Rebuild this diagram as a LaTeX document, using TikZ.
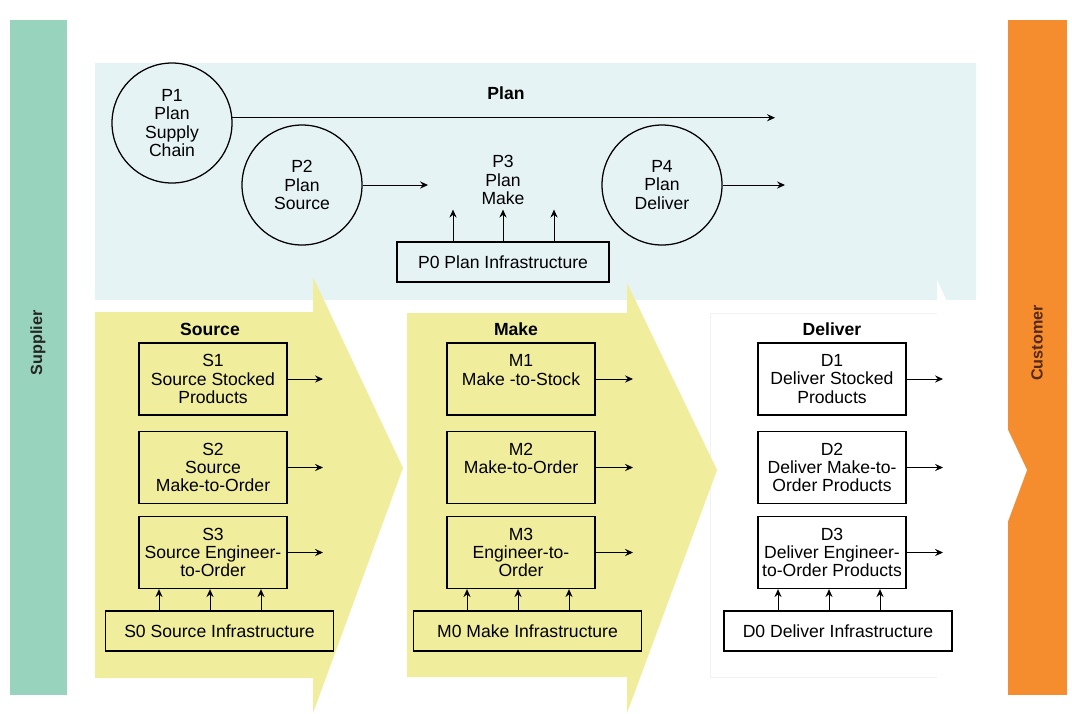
\documentclass[tikz,border=0pt]{standalone}
\usepackage{fontspec}
\setmainfont{Liberation Sans}
\usetikzlibrary{arrows.meta}

\definecolor{supplierbar}{RGB}{152,211,189}
\definecolor{customerbar}{RGB}{245,140,45}
\definecolor{planarea}{RGB}{229,243,245}
\definecolor{execarea}{RGB}{240,237,157}
\definecolor{customertext}{RGB}{85,40,20}
\newcommand{\chartfont}{\fontsize{12.5}{13.1}\selectfont}

\begin{document}
\begin{tikzpicture}[
				planproc/.style={
					draw,
					circle,
					line width=0.9pt,
					minimum size=3cm,
					inner sep=0pt,
					align=center,
					font=\chartfont
				},
				activity/.style={
					draw,
					rectangle,
					line width=0.9pt,
					minimum width=3.7cm,
					minimum height=1.8cm,
					inner sep=1pt,
					align=center,
					font=\chartfont
				},
				infra/.style={activity,minimum width=5.7cm,minimum height=1cm},
				phase/.style={font=\bfseries\chartfont},
				party/.style={rotate=90,font=\bfseries\fontsize{11.5}{13}\selectfont},
				relation/.style={line width=0.7pt,-{Stealth[length=2mm,width=1.8mm,inset=0.7mm]}}
				]
				\useasboundingbox (0,0) rectangle (26.8,-17.825);
				
				% background bands
				\fill[supplierbar] (0.25,-0.5) rectangle (1.675,-17.375);
				\fill[planarea] (2.375,-1.575) rectangle (24.4,-7.5);
				\fill[customerbar] (25.2,-0.5) rectangle (26.675,-17.375);
				\fill[white] (17.75,-7.825) -- (23.425,-7.825) -- (23.425,-7.0) -- (25.675,-11.75)
				-- (23.425,-17.825) -- (23.425,-16.925) -- (17.75,-16.925) -- cycle;
				\draw[black!5] (23.425,-7.825) -- (17.75,-7.825) -- (17.75,-16.925) -- (23.425,-16.925);
				\fill[execarea] (2.375,-7.8) -- (7.825,-7.8) -- (7.825,-6.925) -- (10.075,-11.7)
				-- (7.825,-17.825) -- (7.825,-16.95) -- (2.375,-16.95) -- cycle;
				\fill[execarea] (10.175,-7.825) -- (15.675,-7.825) -- (15.675,-7.075) -- (17.925,-11.75)
				-- (15.675,-17.825) -- (15.675,-16.925) -- (10.175,-16.925) -- cycle;
				
				\node[party,text=black!85] (supplier) at (0.95,-8.575) {Supplier};
				\node[party,text=customertext] (customer) at (25.925,-8.575) {Customer};
				
				% plan
				\node[phase] (plan) at (12.65,-2.325) {Plan};
				\node[planproc] (p1) at (4.3,-3.075) {P1\\Plan\\Supply\\Chain};
				\node[planproc] (p2) at (7.55,-4.625) {P2\\Plan\\Source};
				\node[align=center,font=\chartfont] (p3) at (12.575,-4.5) {P3\\Plan\\Make};
				\node[planproc] (p4) at (16.55,-4.625) {P4\\Plan\\Deliver};
				\node[infra,minimum width=5.3cm] (p0) at (12.575,-6.55) {P0 Plan Infrastructure};
				\coordinate (planend) at (19.375,-2.95);
				\coordinate (p2out) at (10.7,-4.6);
				\coordinate (p4out) at (19.625,-4.6);
				
				\draw[relation] (p1.5) -- (p1.5 -| planend);
				\draw[relation] (p2.east) -- (p2.east -| p2out);
				\draw[relation] (p4.east) -- (p4.east -| p4out);
				\draw[relation] ([xshift=-1.25cm]p0.north) -- ([xshift=-1.25cm]p3.south);
				\draw[relation] (p0.north) -- (p3.south);
				\draw[relation] ([xshift=1.275cm]p0.north) -- ([xshift=1.275cm]p3.south);
				
				% source
				\node[phase] (source) at (5.25,-8.225) {Source};
				\node[activity] (s1) at (5.325,-9.475) {S1\\Source Stocked\\Products};
				\node[activity] (s2) at (5.325,-11.6875) {S2\\Source\\Make-to-Order};
				\node[activity] (s3) at (5.325,-13.8125) {S3\\Source Engineer-\\to-Order};
				\node[infra] (s0) at (5.4875,-15.775) {S0 Source Infrastructure};
				\coordinate (sout) at (8.075,-9.475);
				
				% make
				\node[phase] (make) at (12.9,-8.225) {Make};
				\node[activity] (m1) at (13.025,-9.475) {M1\\Make -to-Stock\\~};
				\node[activity] (m2) at (13.025,-11.6875) {M2\\Make-to-Order\\~};
				\node[activity] (m3) at (13.025,-13.8125) {M3\\Engineer-to-\\Order};
				\node[infra] (m0) at (13.1875,-15.775) {M0 Make Infrastructure};
				\coordinate (mout) at (15.825,-9.475);
				
				% deliver
				\node[phase] (deliver) at (20.8,-8.225) {Deliver};
				\node[activity] (d1) at (20.8,-9.475) {D1\\Deliver Stocked\\Products};
				\node[activity] (d2) at (20.8,-11.6875) {D2\\Deliver Make-to-\\Order Products};
				\node[activity] (d3) at (20.8,-13.8125) {D3\\Deliver Engineer-\\to-Order Products};
				\node[infra] (d0) at (20.95,-15.775) {D0 Deliver Infrastructure};
				\coordinate (dout) at (23.575,-9.475);
				
				\draw[relation] (s1.east) -- (s1.east -| sout);
				\draw[relation] (s2.east) -- (s2.east -| sout);
				\draw[relation] (s3.east) -- (s3.east -| sout);
				\draw[relation] (m1.east) -- (m1.east -| mout);
				\draw[relation] (m2.east) -- (m2.east -| mout);
				\draw[relation] (m3.east) -- (m3.east -| mout);
				\draw[relation] (d1.east) -- (d1.east -| dout);
				\draw[relation] (d2.east) -- (d2.east -| dout);
				\draw[relation] (d3.east) -- (d3.east -| dout);
				
				\draw[relation] ([xshift=-1.35cm]s3.south |- s0.north) -- ([xshift=-1.35cm]s3.south);
				\draw[relation] ([xshift=-0.075cm]s3.south |- s0.north) -- ([xshift=-0.075cm]s3.south);
				\draw[relation] ([xshift=1.2cm]s3.south |- s0.north) -- ([xshift=1.2cm]s3.south);
				\draw[relation] ([xshift=-1.35cm]m3.south |- m0.north) -- ([xshift=-1.35cm]m3.south);
				\draw[relation] ([xshift=-0.075cm]m3.south |- m0.north) -- ([xshift=-0.075cm]m3.south);
				\draw[relation] ([xshift=1.2cm]m3.south |- m0.north) -- ([xshift=1.2cm]m3.south);
				\draw[relation] ([xshift=-1.35cm]d3.south |- d0.north) -- ([xshift=-1.35cm]d3.south);
				\draw[relation] ([xshift=-0.075cm]d3.south |- d0.north) -- ([xshift=-0.075cm]d3.south);
				\draw[relation] ([xshift=1.2cm]d3.south |- d0.north) -- ([xshift=1.2cm]d3.south);
			\end{tikzpicture}
\end{document}
